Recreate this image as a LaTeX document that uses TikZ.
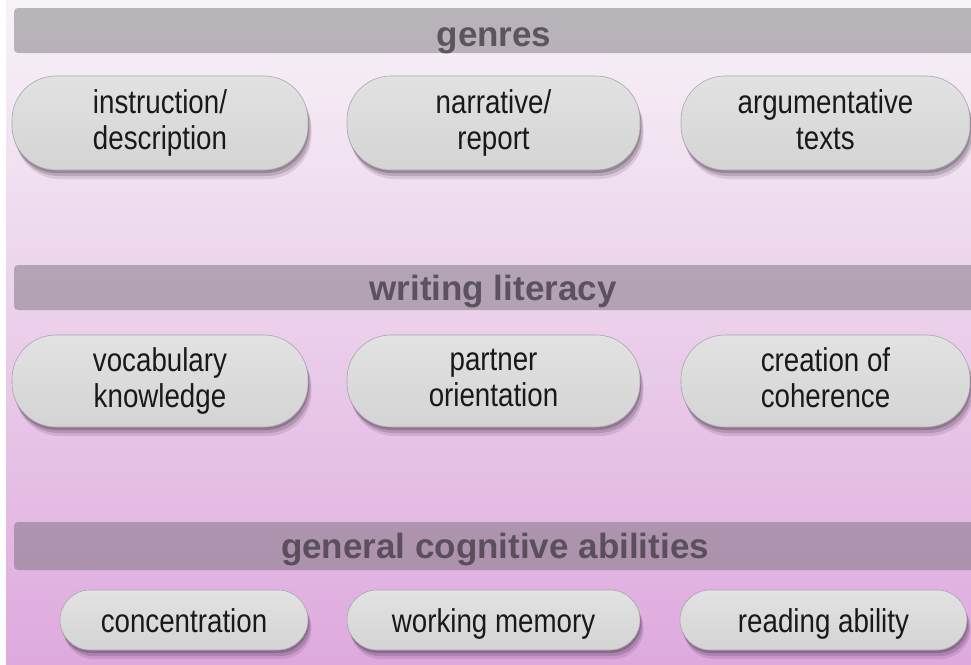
\documentclass[tikz,border=0pt]{standalone}
\usepackage{fontspec}
\setmainfont{Liberation Sans}
\newfontfamily\narrowfont[FakeStretch=0.84]{Liberation Sans}
\newcommand\pillstrut{\rule[-7pt]{0pt}{39pt}}
\definecolor{bgtop}{RGB}{247,243,247}
\definecolor{bgmid}{RGB}{238,214,238}
\definecolor{bgbot}{RGB}{222,170,222}
\definecolor{barc}{RGB}{110,104,112}
\definecolor{bartext}{RGB}{70,62,72}
\definecolor{boxtop}{RGB}{226,226,226}
\definecolor{boxbot}{RGB}{212,212,212}
\definecolor{boxedge}{RGB}{170,165,172}
\definecolor{shadowc}{RGB}{60,40,62}
\definecolor{txt}{RGB}{25,25,25}
\tikzset{
  bandbar/.style={fill=barc, fill opacity=0.45, rounded corners=4pt},
  bandtext/.style={anchor=base, text=bartext, text opacity=0.8, font=\bfseries\fontsize{35}{40}\selectfont, inner sep=0pt},
  pill/.style={rounded corners=#1, top color=boxtop, bottom color=boxbot, draw=boxedge, line width=0.6pt,
    minimum height=94pt, inner sep=0pt, align=center, text=txt,
    font=\narrowfont\fontsize{33}{36}\selectfont,
    execute at begin node={\pillstrut}, execute at end node={\pillstrut},
    preaction={fill=shadowc, fill opacity=0.13, transform canvas={xshift=3.5pt,yshift=-9pt}},
    preaction={fill=shadowc, fill opacity=0.2, transform canvas={xshift=2.5pt,yshift=-6pt}},
    preaction={fill=shadowc, fill opacity=0.28, transform canvas={xshift=1pt,yshift=-3pt}}},
  pill/.default=44pt
}
\begin{document}
\begin{tikzpicture}[x=1pt,y=-1pt]
\useasboundingbox (0,0) rectangle (971,664);
\fill[white] (0,0) rectangle (971,664);
\shade[top color=bgtop, middle color=bgmid, bottom color=bgbot] (6,0) rectangle (971,664);

% bars
\fill[bandbar] (14,8) rectangle (975,53);
\node[bandtext] (genres) at (494,46) {genres};
\fill[bandbar] (14,265) rectangle (975,310);
\node[bandtext] (writing) at (493,300) {writing literacy};
\fill[bandbar] (14,522) rectangle (975,570);
\node[bandtext] (general) at (495,558) {general cognitive abilities};

% row 1
\node[pill, minimum width=296pt] (instr) at (160,123) {instruction/\\description};
\node[pill, minimum width=293pt] (narr) at (493.5,123) {narrative/\\report};
\node[pill, minimum width=289pt] (argu) at (825.5,123) {argumentative\\texts};

% row 2
\node[pill, minimum width=296pt, minimum height=92pt] (vocab) at (160,381) {vocabulary\\knowledge};
\node[pill, minimum width=293pt, minimum height=92pt] (partner) at (493.5,381) {partner\\orientation};
\node[pill, minimum width=289pt, minimum height=92pt] (coher) at (825.5,381) {creation of\\coherence};

% row 3
\node[pill=30pt, minimum width=248pt, minimum height=60pt] (conc) at (184,620) {concentration};
\node[pill=30pt, minimum width=293pt, minimum height=60pt] (work) at (493.5,620) {working memory};
\node[pill=30pt, minimum width=287pt, minimum height=60pt] (read) at (823.5,620) {reading ability};
\end{tikzpicture}
\end{document}
